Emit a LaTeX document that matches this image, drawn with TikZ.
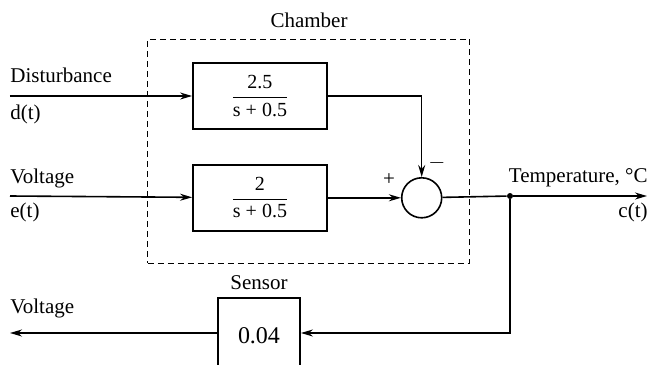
\documentclass[tikz,border=0pt]{standalone}
\usepackage{amsmath}
\usepackage{fontspec}
\setmainfont{Liberation Serif}
\usetikzlibrary{arrows.meta, positioning}

\begin{document}
\begin{tikzpicture}[x=0.5pt, y=-0.5pt,
  blk/.style={draw, line width=0.9pt, minimum width=67pt, minimum height=33pt,
              inner sep=0pt, align=center},
  sumc/.style={draw, circle, line width=0.8pt, minimum size=20pt, inner sep=0pt},
  chbox/.style={draw, dash pattern=on 3pt off 2pt, line width=0.5pt,
                minimum width=161pt, minimum height=112pt, inner sep=0pt},
  dot/.style={circle, fill, inner sep=0pt, minimum size=3pt},
  lbl/.style={inner sep=0pt, font=\fontsize{10.5}{12}\selectfont},
  arr/.style={-{Stealth[length=6pt, width=3.5pt]}, line width=0.8pt},
  ln/.style={line width=0.8pt}]
\useasboundingbox (0,0) rectangle (650,365);
% chamber
\node[chbox] (ch) at (309,151) {};
\node[lbl, anchor=base] (chlab) at ([yshift=5.5pt]ch.north) {Chamber};
\node[blk] (g1) at (260,96) {$\dfrac{\text{2.5}}{\text{s + 0.5}}$};
\node[blk, below=17pt of g1] (g2) {$\dfrac{\text{2}}{\text{s + 0.5}}$};
\node[sumc, right=36.5pt of g2] (sum) {};
\node[lbl] (plus) at (389,180) {+};
\node[lbl] (minus) at (437,163) {$-$};
% sensor
\node[blk, minimum width=41pt, minimum height=38pt, font=\large] (sen) at (259,336) {0.04};
\node[lbl, anchor=base] (senlab) at (259,289) {Sensor};
% ends
\coordinate (din) at (10,96);
\coordinate (ein) at (10,196);
\node[dot] (tap) at (510,196) {};
\coordinate (cout) at (647,196);
\coordinate (fb) at (510,333);
\coordinate (vout) at (10,333);
% labels
\node[lbl, anchor=base west] (dlab) at (10,82) {Disturbance};
\node[lbl, anchor=base west] (dsig) at (10,119.5) {d(t)};
\node[lbl, anchor=base west] (elab) at (10,183) {Voltage};
\node[lbl, anchor=base west] (esig) at (10,217) {e(t)};
\node[lbl, anchor=base east] (tlab) at (648,182) {Temperature, °C};
\node[lbl, anchor=base east] (csig) at (648,217) {c(t)};
\node[lbl, anchor=base west] (vlab) at (10,313) {Voltage};
% signals
\draw[arr] (din) -- (g1);
\draw[arr] (ein) -- (g2);
\draw[arr] (g1.east) -| (sum.north);
\draw[arr] (g2) -- (sum);
\draw[ln] (sum) -- (tap);
\draw[arr] (tap) -- (cout);
\draw[arr] (tap) |- (sen.east |- fb);
\draw[arr] (sen.west |- fb) -- (vout);
\end{tikzpicture}
\end{document}
